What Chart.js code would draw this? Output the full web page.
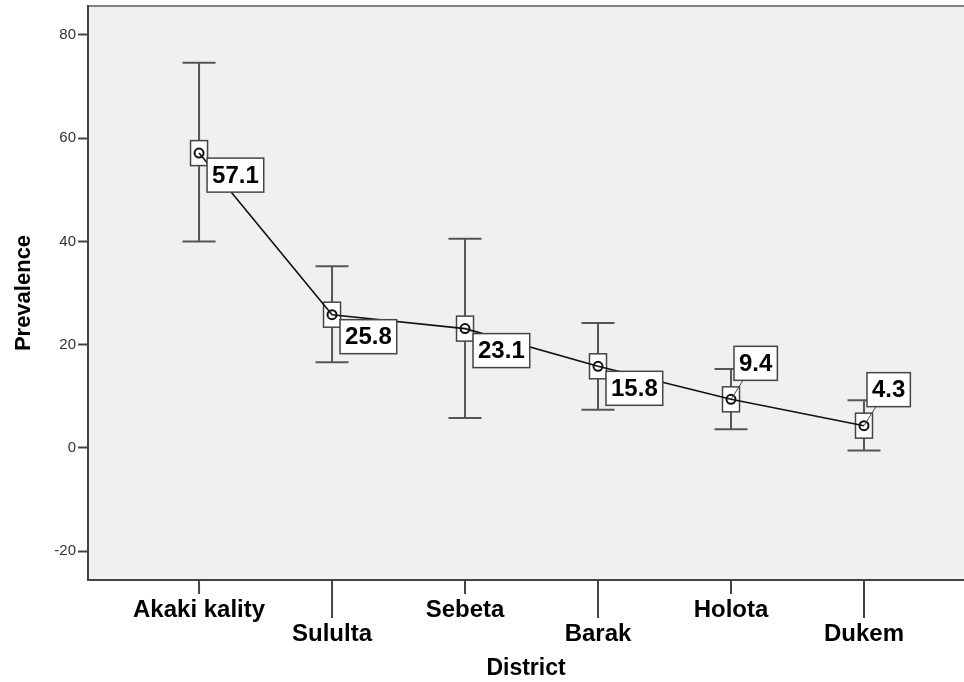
<!DOCTYPE html>
<html>
<head>
<meta charset="utf-8">
<script src="https://cdn.jsdelivr.net/npm/chart.js@4/dist/chart.umd.min.js"></script>
<style>
  html, body { margin: 0; padding: 0; background: #fff; overflow: hidden; }
  #chart { display: block; width: 964px; height: 682px; }
</style>
</head>
<body>
<canvas id="chart" width="964" height="682"></canvas>
<script>
// values
const districts = ['Akaki kality', 'Sululta', 'Sebeta', 'Barak', 'Holota', 'Dukem'];
const prevalence = [57.1, 25.8, 23.1, 15.8, 9.4, 4.3];
const ciLow = [40.0, 16.6, 5.8, 7.4, 3.6, -0.5];
const ciHigh = [74.6, 35.2, 40.5, 24.2, 15.3, 9.2];
const yTicks = [-20, 0, 20, 40, 60, 80];
const labelAbove = [false, false, false, false, true, true];

const FONT = '"Liberation Sans", Arial, sans-serif';

const spssLook = {
  id: 'spssLook',
  beforeDraw(chart) {
    const { ctx, chartArea: a } = chart;
    ctx.save();
    ctx.fillStyle = '#f0f0f0';
    ctx.fillRect(a.left, a.top, a.right - a.left, a.bottom - a.top);
    ctx.strokeStyle = '#808080';
    ctx.lineWidth = 2;
    ctx.beginPath();
    ctx.moveTo(a.left, a.top);
    ctx.lineTo(a.right, a.top);
    ctx.stroke();
    ctx.restore();
  },
  beforeDatasetsDraw(chart) {
    const { ctx } = chart;
    const xs = chart.scales.x, ys = chart.scales.y;
    ctx.save();
    // error bars
    ctx.strokeStyle = '#555';
    ctx.lineWidth = 2;
    districts.forEach((d, i) => {
      const x = xs.getPixelForValue(i);
      const yl = ys.getPixelForValue(ciLow[i]);
      const yh = ys.getPixelForValue(ciHigh[i]);
      ctx.beginPath();
      ctx.moveTo(x, yl); ctx.lineTo(x, yh);
      ctx.moveTo(x - 16.5, yl); ctx.lineTo(x + 16.5, yl);
      ctx.moveTo(x - 16.5, yh); ctx.lineTo(x + 16.5, yh);
      ctx.stroke();
    });
    // boxes around the mean
    ctx.lineWidth = 1.5;
    ctx.strokeStyle = '#444';
    ctx.fillStyle = '#fff';
    prevalence.forEach((v, i) => {
      const x = xs.getPixelForValue(i);
      const y = ys.getPixelForValue(v);
      ctx.fillRect(x - 8.5, y - 12.5, 17, 25);
      ctx.strokeRect(x - 8.5, y - 12.5, 17, 25);
    });
    ctx.restore();
  },
  afterDatasetsDraw(chart) {
    const { ctx } = chart;
    const xs = chart.scales.x, ys = chart.scales.y;
    ctx.save();
    ctx.font = 'bold 24px ' + FONT;
    ctx.textBaseline = 'middle';
    prevalence.forEach((v, i) => {
      const px = xs.getPixelForValue(i);
      const py = ys.getPixelForValue(v);
      const txt = v.toFixed(1);
      const w = ctx.measureText(txt).width + 10;
      const h = 34;
      let bx, by;
      if (labelAbove[i]) {
        bx = px + 3; by = py - 53;
        ctx.strokeStyle = '#444';
        ctx.lineWidth = 1;
        ctx.beginPath();
        ctx.moveTo(px, py); ctx.lineTo(bx + 9, by + h);
        ctx.stroke();
      } else {
        bx = px + 8; by = py + 5;
      }
      ctx.fillStyle = '#fff';
      ctx.fillRect(bx, by, w, h);
      ctx.strokeStyle = '#444';
      ctx.lineWidth = 1.5;
      ctx.strokeRect(bx, by, w, h);
      ctx.fillStyle = '#000';
      ctx.fillText(txt, bx + 5, by + h / 2 + 1);
    });
    ctx.restore();
  },
  afterDraw(chart) {
    const { ctx, chartArea: a } = chart;
    const xs = chart.scales.x;
    ctx.save();
    ctx.strokeStyle = '#444';
    ctx.lineWidth = 2;
    ctx.fillStyle = '#000';
    ctx.font = 'bold 24px ' + FONT;
    ctx.textAlign = 'center';
    ctx.textBaseline = 'middle';
    districts.forEach((d, i) => {
      const x = xs.getPixelForValue(i);
      const lower = i % 2 === 1;
      ctx.beginPath();
      ctx.moveTo(x, a.bottom);
      ctx.lineTo(x, a.bottom + (lower ? 38 : 14));
      ctx.stroke();
      ctx.fillText(d, x, a.bottom + (lower ? 54 : 30));
    });
    ctx.restore();
  }
};

new Chart(document.getElementById('chart'), {
  type: 'line',
  data: {
    datasets: [{
      data: prevalence.map((v, i) => ({ x: i, y: v })),
      borderColor: '#111',
      borderWidth: 1.6,
      pointRadius: 4.5,
      pointBorderWidth: 2,
      pointBorderColor: '#111',
      pointBackgroundColor: 'rgba(0,0,0,0)',
      tension: 0,
    }],
  },
  plugins: [spssLook],
  options: {
    responsive: false,
    animation: false,
    layout: { autoPadding: false, padding: { top: 6, right: 0, left: 0, bottom: 0 } },
    plugins: { legend: { display: false }, tooltip: { enabled: false } },
    scales: {
      x: {
        type: 'linear',
        min: -0.835,
        max: 5.752,
        afterBuildTicks(scale) { scale.ticks = districts.map((d, i) => ({ value: i })); },
        afterFit(scale) {
          scale.height = 102;
          scale.paddingLeft = 0;
          scale.paddingRight = 0;
        },
        ticks: { display: false },
        grid: { display: false },
        border: { display: true, color: '#444', width: 2 },
        title: {
          display: true,
          text: 'District',
          font: { family: FONT, size: 23, weight: 'bold' },
          color: '#000',
          padding: { top: 9, bottom: 0 },
        },
      },
      y: {
        min: -25.6,
        max: 85.6,
        afterBuildTicks(scale) { scale.ticks = yTicks.map(v => ({ value: v })); },
        afterFit(scale) {
          scale.width = 88;
          scale.paddingTop = 0;
          scale.paddingBottom = 0;
        },
        ticks: {
          font: { family: FONT, size: 15 },
          color: '#333',
          padding: 2,
        },
        grid: {
          drawOnChartArea: false,
          drawTicks: true,
          tickLength: 10,
          color: '#444',
          tickWidth: 2,
        },
        border: { display: true, color: '#444', width: 2 },
        title: {
          display: true,
          text: 'Prevalence',
          font: { family: FONT, size: 22, weight: 'bold' },
          color: '#000',
          padding: { top: 11, bottom: 0 },
        },
      },
    },
  },
});
</script>
</body>
</html>
